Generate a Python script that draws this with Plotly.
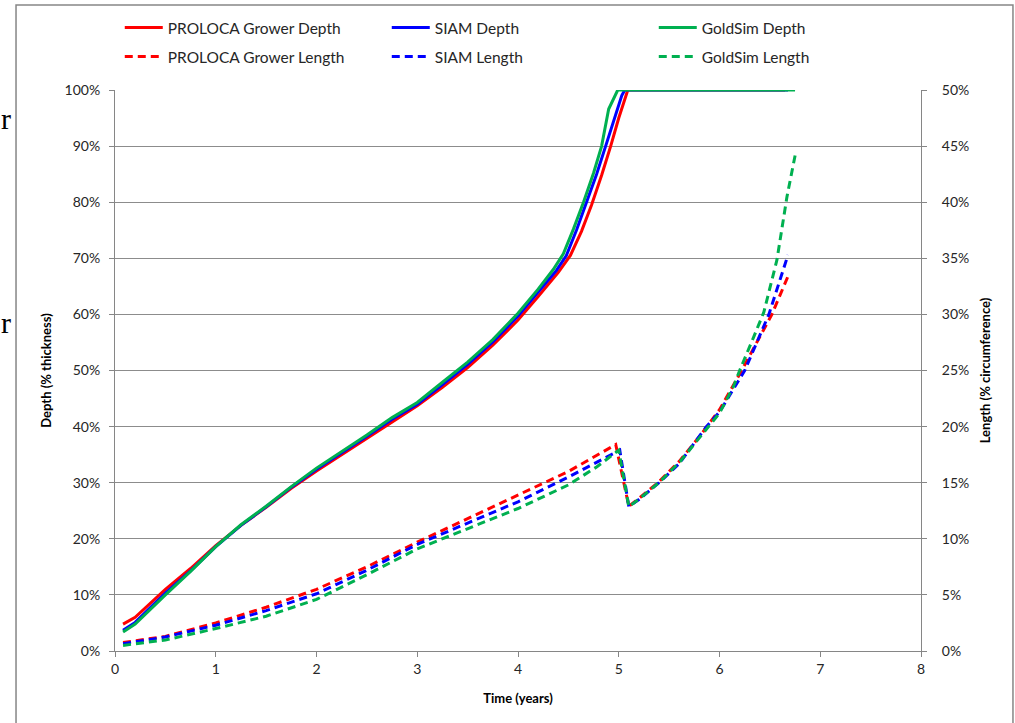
import plotly.graph_objects as go

# ---------------- data ----------------
# Depth (% thickness, fraction) vs time (years)
t_depth_proloca = [0.08, 0.2, 0.5, 0.75, 1.0, 1.25, 1.5, 1.75, 2.0, 2.25, 2.5, 2.75, 3.0, 3.25, 3.5, 3.75, 4.0, 4.2, 4.4, 4.52, 4.63, 4.73, 4.83, 4.92, 5.0, 5.09, 5.5, 6.0, 6.65]
d_proloca = [0.048, 0.060, 0.110, 0.147, 0.188, 0.224, 0.256, 0.290, 0.321, 0.350, 0.379, 0.408, 0.437, 0.470, 0.505, 0.545, 0.590, 0.632, 0.675, 0.705, 0.748, 0.795, 0.848, 0.90, 0.95, 1.0, 1.0, 1.0, 1.0]

t_depth_siam = [0.08, 0.2, 0.5, 0.75, 1.0, 1.25, 1.5, 1.75, 2.0, 2.25, 2.5, 2.75, 3.0, 3.25, 3.5, 3.75, 4.0, 4.2, 4.38, 4.48, 4.58, 4.68, 4.78, 4.87, 4.98, 5.03, 5.06, 5.5, 6.0, 6.68]
d_siam = [0.037, 0.051, 0.103, 0.143, 0.186, 0.224, 0.257, 0.292, 0.324, 0.353, 0.383, 0.413, 0.440, 0.475, 0.511, 0.551, 0.597, 0.640, 0.678, 0.705, 0.750, 0.800, 0.850, 0.90, 0.965, 0.99, 1.0, 1.0, 1.0, 1.0]

t_depth_goldsim = [0.08, 0.2, 0.5, 0.75, 1.0, 1.25, 1.5, 1.75, 2.0, 2.25, 2.5, 2.75, 3.0, 3.25, 3.5, 3.75, 4.0, 4.2, 4.35, 4.45, 4.55, 4.65, 4.75, 4.83, 4.90, 4.99, 5.5, 6.0, 6.75]
d_goldsim = [0.034, 0.048, 0.100, 0.142, 0.186, 0.225, 0.258, 0.293, 0.326, 0.355, 0.385, 0.416, 0.443, 0.479, 0.515, 0.555, 0.602, 0.645, 0.680, 0.708, 0.752, 0.800, 0.852, 0.90, 0.966, 1.0, 1.0, 1.0, 1.0]

# Length (% circumference, fraction) vs time (years)
t_len_proloca = [0.08, 0.5, 1.0, 1.5, 2.0, 2.5, 3.0, 3.5, 4.0, 4.5, 4.97, 5.1, 5.2, 5.4, 5.6, 5.8, 6.0, 6.22, 6.4, 6.52, 6.68]
l_proloca = [0.0075, 0.013, 0.025, 0.039, 0.055, 0.075, 0.097, 0.118, 0.139, 0.160, 0.184, 0.129, 0.136, 0.151, 0.169, 0.191, 0.215, 0.25, 0.28, 0.30, 0.334]

t_len_siam = [0.08, 0.5, 1.0, 1.5, 2.0, 2.5, 3.0, 3.5, 4.0, 4.5, 5.01, 5.1, 5.2, 5.4, 5.6, 5.87, 6.0, 6.25, 6.49, 6.68]
l_siam = [0.0065, 0.0125, 0.023, 0.036, 0.051, 0.072, 0.095, 0.114, 0.133, 0.155, 0.179, 0.1286, 0.135, 0.150, 0.167, 0.200, 0.213, 0.25, 0.30, 0.353]

t_len_goldsim = [0.08, 0.5, 1.0, 1.5, 2.0, 2.5, 3.0, 3.5, 4.0, 4.5, 4.78, 5.0, 5.1, 5.21, 5.41, 5.61, 5.81, 6.0, 6.14, 6.2, 6.34, 6.44, 6.57, 6.67, 6.76]
l_goldsim = [0.005, 0.0098, 0.020, 0.031, 0.046, 0.068, 0.091, 0.109, 0.127, 0.148, 0.164, 0.179, 0.1286, 0.136, 0.151, 0.169, 0.191, 0.212, 0.236, 0.25, 0.28, 0.302, 0.3485, 0.405, 0.446]

x_ticks = [0, 1, 2, 3, 4, 5, 6, 7, 8]
x_title = "Time (years)"
y_title = "Depth (% thickness)"
y2_title = "Length (% circumference)"

RED = "#FF0000"
BLUE = "#0000FF"
GREEN = "#00B050"
FONT = "Lato"
DASH = "8px,5px"

fig = go.Figure()

fig.add_trace(go.Scatter(x=t_depth_proloca, y=d_proloca, mode="lines", name="PROLOCA Grower Depth",
                         line=dict(color=RED, width=3), legend="legend"))
fig.add_trace(go.Scatter(x=t_depth_siam, y=d_siam, mode="lines", name="SIAM Depth",
                         line=dict(color=BLUE, width=3), legend="legend"))
fig.add_trace(go.Scatter(x=t_depth_goldsim, y=d_goldsim, mode="lines", name="GoldSim Depth",
                         line=dict(color=GREEN, width=3), legend="legend"))
fig.add_trace(go.Scatter(x=t_len_proloca, y=l_proloca, mode="lines", name="PROLOCA Grower Length",
                         line=dict(color=RED, width=3, dash=DASH), yaxis="y2", legend="legend2"))
fig.add_trace(go.Scatter(x=t_len_siam, y=l_siam, mode="lines", name="SIAM Length",
                         line=dict(color=BLUE, width=3, dash=DASH), yaxis="y2", legend="legend2"))
fig.add_trace(go.Scatter(x=t_len_goldsim, y=l_goldsim, mode="lines", name="GoldSim Length",
                         line=dict(color=GREEN, width=3, dash=DASH), yaxis="y2", legend="legend2"))

legend_common = dict(orientation="h", xref="container", yref="container", xanchor="left", yanchor="middle",
                     x=0.118, entrywidth=214, entrywidthmode="pixels", itemwidth=38, bgcolor="rgba(0,0,0,0)",
                     font=dict(family=FONT, size=15.5, color="#262626"), traceorder="normal")

fig.update_layout(
    width=1015, height=723,
    margin=dict(l=115, r=94, t=90, b=72, autoexpand=False),
    paper_bgcolor="white", plot_bgcolor="white",
    font=dict(family=FONT, size=14, color="#262626"),
    legend=dict(legend_common, y=1 - 28 / 723),
    legend2=dict(legend_common, y=1 - 57 / 723),
    xaxis=dict(range=[0, 8], tickvals=x_ticks, ticks="outside", ticklen=5, tickcolor="#868686",
               showline=True, linecolor="#868686", linewidth=1, showgrid=False, zeroline=False, automargin=False,
               tickfont=dict(family=FONT, size=14, color="#262626"),
               title=dict(text=x_title, font=dict(family=FONT, size=13, color="black", weight="bold"), standoff=18)),
    yaxis=dict(range=[0, 1], dtick=0.1, tickformat=".0%", ticks="outside", ticklen=5, tickcolor="#868686",
               showline=True, linecolor="#868686", linewidth=1, showgrid=True, gridcolor="#8C8C8C", gridwidth=1,
               zeroline=False, ticklabelstandoff=6, automargin=False,
               tickfont=dict(family=FONT, size=14, color="#262626"),
               title=dict(text=y_title, font=dict(family=FONT, size=13, color="black", weight="bold"), standoff=10)),
    yaxis2=dict(range=[0, 0.5], dtick=0.05, tickformat=".0%", overlaying="y", side="right",
                ticks="outside", ticklen=5, tickcolor="#868686", showline=True, linecolor="#868686", linewidth=1,
                showgrid=False, zeroline=False, ticklabelstandoff=12, automargin=False,
                tickfont=dict(family=FONT, size=14, color="#262626"),
                title=dict(text=y2_title, font=dict(family=FONT, size=13, color="black", weight="bold"), standoff=12)),
)

# chart area border
fig.add_shape(type="rect", xref="paper", yref="paper", x0=-0.1228, x1=1.1141, y0=-0.145, y1=1.1515,
              line=dict(color="#868686", width=1.5), fillcolor="rgba(0,0,0,0)", layer="below")

# stray document text at the far left edge
for yy in [118, 322]:
    fig.add_annotation(text="r", xref="paper", yref="paper", x=(6 - 115) / 806, y=(651 - yy) / 561,
                       showarrow=False, font=dict(family="Liberation Serif", size=30, color="black"),
                       xanchor="center", yanchor="middle")

fig.write_html("out.html", config={"displayModeBar": False},
               post_script="document.body.style.margin='0';")
